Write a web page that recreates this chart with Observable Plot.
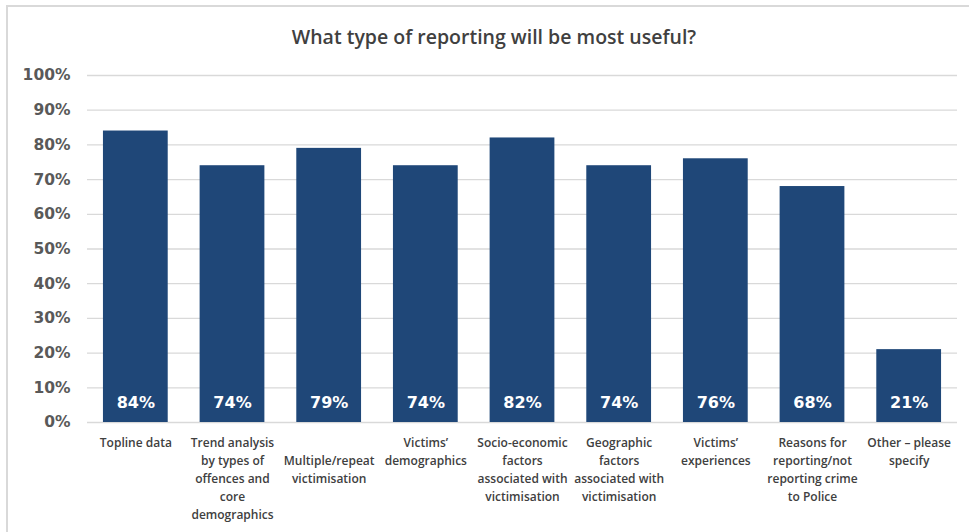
<!DOCTYPE html>
<html>
<head>
<meta charset="utf-8">
<script src="https://cdn.jsdelivr.net/npm/d3@7"></script>
<script src="https://cdn.jsdelivr.net/npm/@observablehq/plot@0.6"></script>
<style>
  html, body { margin: 0; padding: 0; background: #fff; }
  #wrap { position: relative; width: 969px; height: 532px; overflow: hidden; background: #fff; }
  #frame { position: absolute; left: 6px; top: 5px; width: 975px; height: 540px; border-left: 2px solid #d9d9d9; border-top: 2px solid #d9d9d9; box-sizing: border-box; }
  #title { position: absolute; top: 23px; left: 0; width: 988px; text-align: center; font-family: "Open Sans", sans-serif; font-weight: 600; font-size: 19.5px; color: #404040; }
  #chart { position: absolute; top: 60px; left: 0; }
</style>
</head>
<body>
<div id="wrap">
  <div id="frame"></div>
  <div id="title">What type of reporting will be most useful?</div>
  <div id="chart"></div>
</div>
<script>
const categories = [
  "Topline data",
  "Trend analysis\nby types of\noffences and\ncore\ndemographics",
  "\nMultiple/repeat\nvictimisation",
  "Victims’\ndemographics",
  "Socio-economic\nfactors\nassociated with\nvictimisation",
  "Geographic\nfactors\nassociated with\nvictimisation",
  "Victims’\nexperiences",
  "Reasons for\nreporting/not\nreporting crime\nto Police",
  "Other – please\nspecify"
];
const values = [84, 74, 79, 74, 82, 74, 76, 68, 21];
const yTicks = [0, 10, 20, 30, 40, 50, 60, 70, 80, 90, 100];

const data = categories.map((c, i) => ({category: c, value: values[i]}));

const chart = Plot.plot({
  width: 969,
  height: 472,
  marginLeft: 87,
  marginRight: 12,
  marginTop: 15,
  marginBottom: 110,
  style: {fontFamily: "'Open Sans', sans-serif", background: "transparent"},
  x: {domain: categories, paddingInner: 0.33, paddingOuter: 0.165, round: false, label: null},
  y: {domain: [0, 100], label: null},
  marks: [
    Plot.gridY(yTicks, {stroke: "#d9d9d9", strokeOpacity: 1, strokeWidth: 1.3}),
    Plot.axisY(yTicks, {
      tickSize: 0, tickPadding: 17, label: null,
      tickFormat: d => d + "%",
      fontFamily: "DejaVu Sans", fontSize: 15.5, fontWeight: "bold", fill: "#595959"
    }),
    Plot.axisX({
      tickSize: 0, tickPadding: 12, label: null,
      fontSize: 12, lineHeight: 1.5, fill: "#404040", fontWeight: 600
    }),
    Plot.barY(data, {x: "category", y: "value", fill: "#1f4778"}),
    Plot.text(data, {
      x: "category", y: 0, text: d => d.value + "%", dy: -20,
      fill: "white", fontFamily: "DejaVu Sans", fontSize: 16, fontWeight: "bold"
    })
  ]
});
document.getElementById("chart").appendChild(chart);
</script>
</body>
</html>
